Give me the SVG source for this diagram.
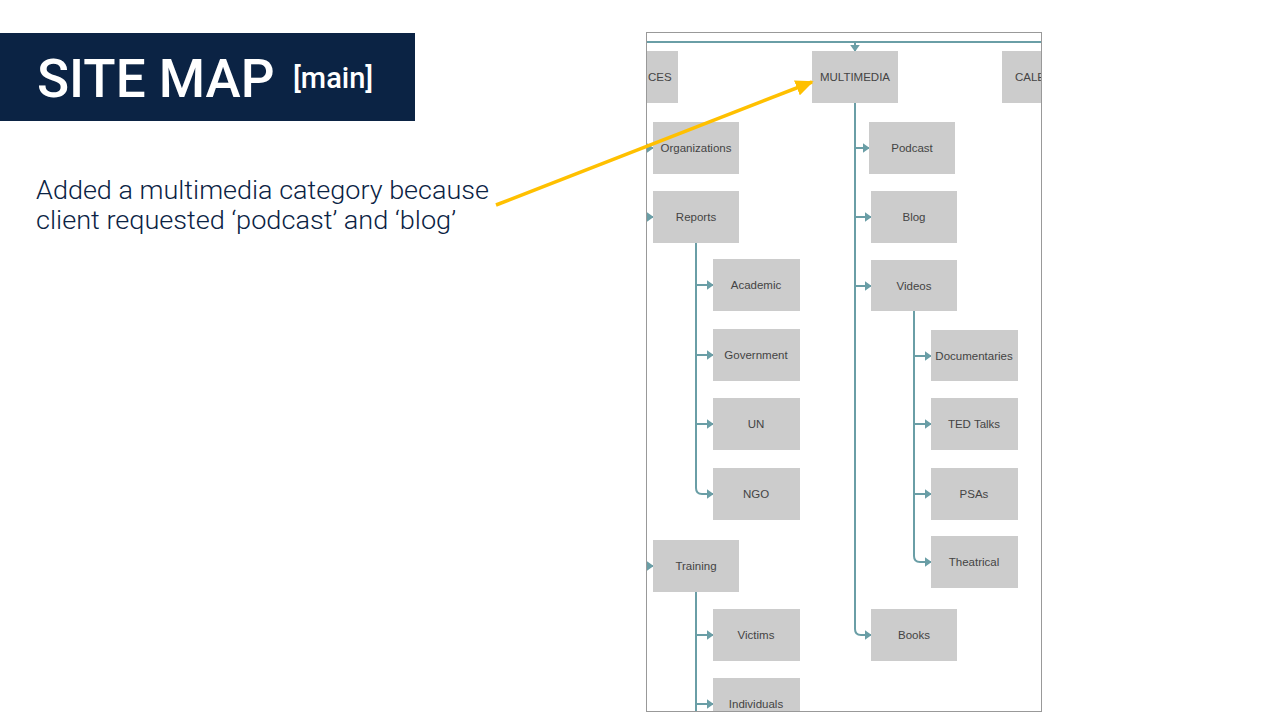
<svg xmlns="http://www.w3.org/2000/svg" width="1280" height="720" viewBox="0 0 1280 720">
<style>
.box{fill:#cccccc}
.lbl{font-family:"Liberation Sans",Arial,sans-serif;font-size:11.5px;fill:#444;text-anchor:middle}
.ln{fill:none;stroke:#6a9ea6;stroke-width:2}
.ann{font-family:Roboto,"Liberation Sans",Arial,sans-serif;font-weight:300;font-size:25px;fill:#0b2344}
</style>
<defs>
<marker id="tri" viewBox="0 0 10 10" refX="9" refY="5" markerWidth="7" markerHeight="10" orient="auto" markerUnits="userSpaceOnUse" preserveAspectRatio="none">
<path d="M0,0 L10,5 L0,10 z" fill="#6a9ea6"/>
</marker>
<marker id="yarr" viewBox="0 0 10 10" refX="9" refY="5" markerWidth="18" markerHeight="16" orient="auto" markerUnits="userSpaceOnUse" preserveAspectRatio="none">
<path d="M0,0 L10,5 L0,10 z" fill="#ffc000"/>
</marker>
<clipPath id="frameclip"><rect x="647" y="33" width="394" height="678"/></clipPath>
</defs>
<rect width="1280" height="720" fill="#ffffff"/>
<g id="title">
<rect x="0" y="33" width="415" height="88" fill="#0b2344"/>
<text x="37" y="97" font-family="Roboto,'Liberation Sans',sans-serif" font-size="53" font-weight="500" fill="#ffffff">SITE MAP</text>
<text x="293" y="88" font-family="Roboto,'Liberation Sans',sans-serif" font-size="29" font-weight="500" fill="#ffffff">[main]</text>
</g>
<g id="annotation">
<text class="ann" x="36" y="199" textLength="453" lengthAdjust="spacingAndGlyphs">Added a multimedia category because</text>
<text class="ann" x="36" y="229" textLength="420" lengthAdjust="spacingAndGlyphs">client requested ‘podcast’ and ‘blog’</text>
</g>
<g id="sitemap" clip-path="url(#frameclip)">
<g id="connectors">
<line class="ln" x1="647" y1="42" x2="1041" y2="42"/>
<line class="ln" x1="855" y1="42" x2="855" y2="51" marker-end="url(#tri)"/>
<path class="ln" d="M855,103 V629 Q855,635 861,635 H871" marker-end="url(#tri)"/>
<line class="ln" x1="855" y1="148" x2="869" y2="148" marker-end="url(#tri)"/>
<line class="ln" x1="855" y1="217" x2="871" y2="217" marker-end="url(#tri)"/>
<line class="ln" x1="855" y1="286" x2="871" y2="286" marker-end="url(#tri)"/>
<path class="ln" d="M914,311 V556 Q914,562 920,562 H931" marker-end="url(#tri)"/>
<line class="ln" x1="914" y1="356" x2="931" y2="356" marker-end="url(#tri)"/>
<line class="ln" x1="914" y1="424" x2="931" y2="424" marker-end="url(#tri)"/>
<line class="ln" x1="914" y1="494" x2="931" y2="494" marker-end="url(#tri)"/>
<path class="ln" d="M696,243 V488 Q696,494 702,494 H713" marker-end="url(#tri)"/>
<line class="ln" x1="696" y1="285" x2="713" y2="285" marker-end="url(#tri)"/>
<line class="ln" x1="696" y1="355" x2="713" y2="355" marker-end="url(#tri)"/>
<line class="ln" x1="696" y1="424" x2="713" y2="424" marker-end="url(#tri)"/>
<line class="ln" x1="696" y1="592" x2="696" y2="715"/>
<line class="ln" x1="696" y1="635" x2="713" y2="635" marker-end="url(#tri)"/>
<line class="ln" x1="696" y1="704" x2="713" y2="704" marker-end="url(#tri)"/>
<line class="ln" x1="640" y1="148" x2="653" y2="148" marker-end="url(#tri)"/>
<line class="ln" x1="640" y1="217" x2="653" y2="217" marker-end="url(#tri)"/>
<line class="ln" x1="640" y1="566" x2="653" y2="566" marker-end="url(#tri)"/>
</g>
<g id="n-ces"><rect class="box" x="592" y="51" width="86" height="52"/><text class="lbl" x="648" y="81" style="text-anchor:start">CES</text></g>
<g id="n-multimedia"><rect class="box" x="812" y="51" width="86" height="52"/><text class="lbl" x="855" y="81">MULTIMEDIA</text></g>
<g id="n-cale"><rect class="box" x="1002" y="51" width="86" height="52"/><text class="lbl" x="1015" y="81" style="text-anchor:start">CALE</text></g>
<g id="n-organizations"><rect class="box" x="653" y="122" width="86" height="52"/><text class="lbl" x="696" y="152">Organizations</text></g>
<g id="n-reports"><rect class="box" x="653" y="191" width="86" height="52"/><text class="lbl" x="696" y="221">Reports</text></g>
<g id="n-academic"><rect class="box" x="713" y="259" width="87" height="52"/><text class="lbl" x="756" y="289">Academic</text></g>
<g id="n-government"><rect class="box" x="713" y="329" width="87" height="52"/><text class="lbl" x="756" y="359">Government</text></g>
<g id="n-un"><rect class="box" x="713" y="398" width="87" height="52"/><text class="lbl" x="756" y="428">UN</text></g>
<g id="n-ngo"><rect class="box" x="713" y="468" width="87" height="52"/><text class="lbl" x="756" y="498">NGO</text></g>
<g id="n-training"><rect class="box" x="653" y="540" width="86" height="52"/><text class="lbl" x="696" y="570">Training</text></g>
<g id="n-victims"><rect class="box" x="713" y="609" width="87" height="52"/><text class="lbl" x="756" y="639">Victims</text></g>
<g id="n-individuals"><rect class="box" x="713" y="678" width="87" height="52"/><text class="lbl" x="756" y="708">Individuals</text></g>
<g id="n-podcast"><rect class="box" x="869" y="122" width="86" height="52"/><text class="lbl" x="912" y="152">Podcast</text></g>
<g id="n-blog"><rect class="box" x="871" y="191" width="86" height="52"/><text class="lbl" x="914" y="221">Blog</text></g>
<g id="n-videos"><rect class="box" x="871" y="260" width="86" height="51"/><text class="lbl" x="914" y="290">Videos</text></g>
<g id="n-documentaries"><rect class="box" x="931" y="330" width="87" height="51"/><text class="lbl" x="974" y="360">Documentaries</text></g>
<g id="n-ted"><rect class="box" x="931" y="398" width="87" height="52"/><text class="lbl" x="974" y="428">TED Talks</text></g>
<g id="n-psas"><rect class="box" x="931" y="468" width="87" height="52"/><text class="lbl" x="974" y="498">PSAs</text></g>
<g id="n-theatrical"><rect class="box" x="931" y="536" width="87" height="52"/><text class="lbl" x="974" y="566">Theatrical</text></g>
<g id="n-books"><rect class="box" x="871" y="609" width="86" height="52"/><text class="lbl" x="914" y="639">Books</text></g>
</g>
<rect x="646.5" y="32.5" width="395" height="679" fill="none" stroke="#999999" stroke-width="1"/>
<g id="callout">
<line x1="496" y1="205" x2="812" y2="82" stroke="#ffc000" stroke-width="3.5" marker-end="url(#yarr)"/>
</g>
</svg>
